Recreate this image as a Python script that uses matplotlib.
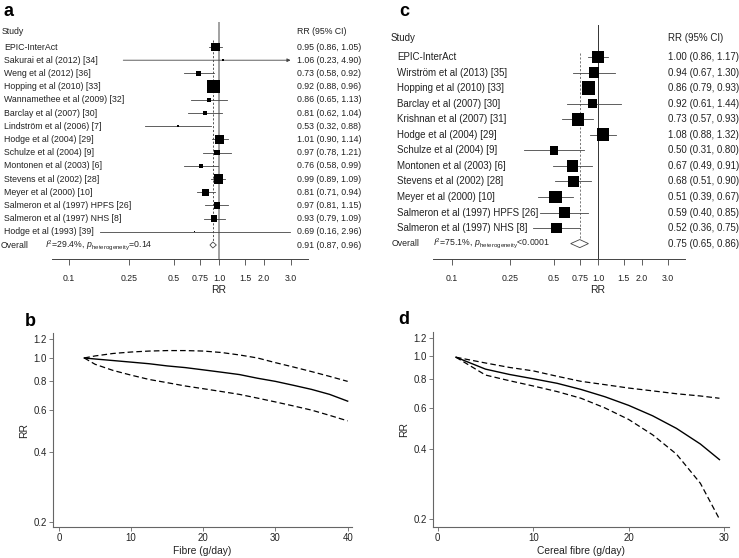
import numpy as np
import matplotlib.pyplot as plt
from matplotlib import transforms
from matplotlib.ticker import NullLocator

plt.rcParams['font.family'] = ['Liberation Sans', 'DejaVu Sans']
plt.rcParams['mathtext.fontset'] = 'custom'
plt.rcParams['mathtext.rm'] = 'Liberation Sans'
plt.rcParams['mathtext.it'] = 'Liberation Sans:italic'

W, H = 739, 558

# ---- panel a: total fibre, per 10 g/day
studies_a = ["EPIC-InterAct", "Sakurai et al (2012) [34]", "Weng et al (2012) [36]",
             "Hopping et al (2010) [33]", "Wannamethee et al (2009) [32]",
             "Barclay et al (2007) [30]", "Lindström et al (2006) [7]",
             "Hodge et al (2004) [29]", "Schulze et al (2004) [9]",
             "Montonen et al (2003) [6]", "Stevens et al (2002) [28]",
             "Meyer et al (2000) [10]", "Salmeron et al (1997) HPFS [26]",
             "Salmeron et al (1997) NHS [8]", "Hodge et al (1993) [39]"]
rr_a = [0.95, 1.06, 0.73, 0.92, 0.86, 0.81, 0.53, 1.01, 0.97, 0.76, 0.99, 0.81, 0.97, 0.93, 0.69]
lo_a = [0.86, 0.23, 0.58, 0.88, 0.65, 0.62, 0.32, 0.90, 0.78, 0.58, 0.89, 0.71, 0.81, 0.79, 0.16]
hi_a = [1.05, 4.90, 0.92, 0.96, 1.13, 1.04, 0.88, 1.14, 1.21, 0.99, 1.09, 0.94, 1.15, 1.09, 2.96]
weights_a = [11.1, 0.4, 4.3, 24.9, 2.8, 2.8, 0.7, 11.1, 4.3, 2.8, 14.0, 8.5, 6.2, 6.2, 0.2]
overall_a = (0.91, 0.87, 0.96)
het_a = r"$I^2$=29.4%, $p_{\mathrm{heterogeneity}}$=0.14"

# ---- panel c: cereal fibre
studies_c = ["EPIC-InterAct", "Wirström et al (2013) [35]", "Hopping et al (2010) [33]",
             "Barclay et al (2007) [30]", "Krishnan et al (2007) [31]",
             "Hodge et al (2004) [29]", "Schulze et al (2004) [9]",
             "Montonen et al (2003) [6]", "Stevens et al (2002) [28]",
             "Meyer et al (2000) [10]", "Salmeron et al (1997) HPFS [26]",
             "Salmeron et al (1997) NHS [8]"]
rr_c = [1.00, 0.94, 0.86, 0.92, 0.73, 1.08, 0.50, 0.67, 0.68, 0.51, 0.59, 0.52]
lo_c = [0.86, 0.67, 0.79, 0.61, 0.57, 0.88, 0.31, 0.49, 0.51, 0.39, 0.40, 0.36]
hi_c = [1.17, 1.30, 0.93, 1.44, 0.93, 1.32, 0.80, 0.91, 0.90, 0.67, 0.85, 0.75]
weights_c = [10.1, 7.0, 11.8, 5.7, 10.1, 10.1, 4.5, 8.4, 8.4, 10.1, 7.0, 7.0]
overall_c = (0.75, 0.65, 0.86)
het_c = r"$I^2$=75.1%, $p_{\mathrm{heterogeneity}}$<0.0001"

rr_ticks = [0.1, 0.25, 0.5, 0.75, 1.0, 1.5, 2.0, 3.0]
rr_tick_labels = ["0.1", "0.25", "0.5", "0.75", "1.0", "1.5", "2.0", "3.0"]

# ---- panel b: dose-response, total fibre
fibre = [3.5, 5, 7.5, 10, 12.5, 15, 17.5, 20, 22.5, 25, 27.5, 30, 32.5, 35, 37.5, 40]
fibre_rr = [1.0, 0.99, 0.975, 0.96, 0.945, 0.925, 0.91, 0.89, 0.87, 0.85, 0.82, 0.795,
            0.765, 0.735, 0.70, 0.655]
fibre_hi = [1.0, 1.02, 1.045, 1.06, 1.07, 1.075, 1.075, 1.07, 1.055, 1.03, 1.0, 0.955,
            0.915, 0.875, 0.835, 0.795]
fibre_lo = [1.0, 0.94, 0.885, 0.845, 0.81, 0.785, 0.76, 0.74, 0.72, 0.70, 0.675, 0.65,
            0.625, 0.60, 0.57, 0.54]

# ---- panel d: dose-response, cereal fibre
cereal = [1.9, 5, 7.5, 10, 12.5, 15, 17.5, 20, 22.5, 25, 27.5, 29.5]
cereal_rr = [0.99, 0.88, 0.835, 0.80, 0.765, 0.72, 0.67, 0.615, 0.555, 0.49, 0.42, 0.36]
cereal_hi = [0.99, 0.935, 0.895, 0.865, 0.82, 0.78, 0.755, 0.73, 0.71, 0.69, 0.675, 0.66]
cereal_lo = [0.99, 0.83, 0.785, 0.745, 0.705, 0.66, 0.60, 0.535, 0.46, 0.38, 0.285, 0.20]

curve_yticks = [0.2, 0.4, 0.6, 0.8, 1.0, 1.2]
curve_ylabels = ["0.2", "0.4", "0.6", "0.8", "1.0", "1.2"]

TXT = "#222222"


def px_rect(left, top, right, bottom):
    return [left / W, 1 - bottom / H, (right - left) / W, (bottom - top) / H]


def forest(fig, studies, rr, lo, hi, weights, overall, het, lay):
    left, top, right, bottom = lay["rect"]
    ax = fig.add_axes(px_rect(left, top, right, bottom))
    n = len(studies)
    rows = np.arange(n)
    r0, step = lay["row0"], lay["step"]
    x1, ppd = lay["x_one"], lay["ppd"]
    fs, fs_o = lay["fs"], lay["fs_overall"]
    ax.set_xscale("log")
    ax.set_xlim(10 ** ((left - x1) / ppd), 10 ** ((right - x1) / ppd))
    ax.set_ylim((bottom - r0) / step, (top - r0) / step)

    ax.axvline(1.0, color=lay["ref_color"], lw=lay["ref_lw"], zorder=1)
    est, elo, ehi = overall
    ax.plot([est, est], [lay["dash_top"], n - 0.25], color=lay["dash_color"],
            lw=0.7, ls=(0, (2.2, 1.8)), zorder=1)

    cap = rr_ticks[-1]
    for i in rows:
        if hi[i] > cap:
            ax.annotate("", xy=(cap, i), xytext=(lo[i], i),
                        arrowprops=dict(arrowstyle="-|>", color="#444444", lw=0.6,
                                        mutation_scale=5, shrinkA=0, shrinkB=0))
        else:
            ax.plot([lo[i], hi[i]], [i, i], color="#444444", lw=0.6, zorder=2)
    side_pt = lay["box_k"] * np.sqrt(np.array(weights)) * 72 / 100
    ax.scatter(rr, rows, marker="s", s=side_pt ** 2, color="black", linewidths=0,
               zorder=3)
    dh = lay["diamond_h"]
    ax.fill([elo, est, ehi, est], [n, n - dh, n, n + dh], facecolor="white",
            edgecolor="#444444", lw=0.6, zorder=3)

    for s in ["top", "left", "right"]:
        ax.spines[s].set_visible(False)
    ax.spines["bottom"].set_color("#444444")
    ax.spines["bottom"].set_linewidth(0.7)
    ax.set_yticks([])
    ax.set_xticks(rr_ticks)
    ax.set_xticklabels(rr_tick_labels)
    ax.xaxis.set_minor_locator(NullLocator())
    ax.tick_params(axis="x", length=4, width=0.6, color="#444444", labelsize=6.3,
                   labelcolor=TXT, pad=7)

    tr = transforms.blended_transform_factory(fig.transFigure, ax.transData)
    hy = (lay["header"] - r0) / step
    ax.text(lay["x_header"] / W, hy, "Study", transform=tr, fontsize=fs,
            color=TXT, va="center")
    ax.text(lay["x_rr"] / W, hy, "RR (95% CI)", transform=tr, fontsize=fs,
            color=TXT, va="center")
    for i in rows:
        ax.text(lay["x_study"] / W, i, studies[i], transform=tr, fontsize=fs,
                color=TXT, va="center")
        ax.text(lay["x_rr"] / W, i, f"{rr[i]:.2f} ({lo[i]:.2f}, {hi[i]:.2f})",
                transform=tr, fontsize=fs, color=TXT, va="center")
    ax.text(lay["x_overall"] / W, n, "Overall", transform=tr, fontsize=fs_o,
            color=TXT, va="center")
    ax.text(lay["x_het"] / W, n, het, transform=tr, fontsize=fs_o, color=TXT,
            va="center")
    ax.text(lay["x_rr"] / W, n, f"{est:.2f} ({elo:.2f}, {ehi:.2f})", transform=tr,
            fontsize=fs, color=TXT, va="center")
    trx = transforms.blended_transform_factory(ax.transData, fig.transFigure)
    ax.text(1.0, 1 - lay["rr_label"] / H, "RR", transform=trx, fontsize=7.5,
            color=TXT, ha="center", va="center")
    return ax


def curve(fig, rect, x, rr, lo, hi, xlim, ylim, xticks, xlabel):
    ax = fig.add_axes(px_rect(*rect))
    ax.set_yscale("log")
    ax.plot(x, rr, color="black", lw=1.0)
    ax.plot(x, hi, color="black", lw=0.9, ls=(0, (4.5, 2.5)))
    ax.plot(x, lo, color="black", lw=0.9, ls=(0, (4.5, 2.5)))
    ax.set_xlim(*xlim)
    ax.set_ylim(*ylim)
    ax.set_yticks(curve_yticks)
    ax.set_yticklabels(curve_ylabels)
    ax.yaxis.set_minor_locator(NullLocator())
    ax.set_xticks(xticks)
    for s in ["top", "right"]:
        ax.spines[s].set_visible(False)
    for s in ["left", "bottom"]:
        ax.spines[s].set_color("#666666")
        ax.spines[s].set_linewidth(0.8)
    ax.tick_params(length=3, width=0.6, color="#666666", labelsize=6.9,
                   labelcolor=TXT, pad=1.5)
    ax.set_xlabel(xlabel, fontsize=7.4, color=TXT, labelpad=2)
    ax.set_ylabel("RR", fontsize=7.4, color=TXT, labelpad=3)
    return ax


fig = plt.figure(figsize=(W / 100, H / 100), dpi=100)

forest(fig, studies_a, rr_a, lo_a, hi_a, weights_a, overall_a, het_a,
       dict(rect=(52, 22, 308, 259), row0=47, step=13.2, x_one=219, ppd=150,
            header=31, x_header=2, x_study=4, x_rr=297, x_overall=1, x_het=45,
            rr_label=290, fs=6.3, fs_overall=6.3,
            ref_color="#9a9a9a", ref_lw=1.3, dash_color="#555555", dash_top=-0.55,
            box_k=2.5, diamond_h=0.23))

forest(fig, studies_c, rr_c, lo_c, hi_c, weights_c, overall_c, het_c,
       dict(rect=(433, 25, 685, 259), row0=57, step=15.55, x_one=598, ppd=146,
            header=38, x_header=391, x_study=397, x_rr=668, x_overall=392, x_het=433,
            rr_label=290, fs=7.0, fs_overall=6.3,
            ref_color="#333333", ref_lw=0.7, dash_color="#777777", dash_top=-0.26,
            box_k=4.0, diamond_h=0.26))

curve(fig, (53, 333, 352, 527), fibre, fibre_rr, fibre_lo, fibre_hi,
      (-0.83, 40.6), (0.191, 1.277), [0, 10, 20, 30, 40], "Fibre (g/day)")
curve(fig, (433, 332, 729, 527), cereal, cereal_rr, cereal_lo, cereal_hi,
      (-0.5, 30.5), (0.185, 1.27), [0, 10, 20, 30], "Cereal fibre (g/day)")

for lab, x, y in [("a", 8.5, 11.5), ("c", 404.5, 12), ("b", 30, 321.5), ("d", 404, 319)]:
    fig.text(x / W, 1 - y / H, lab, fontsize=13, fontweight="bold", ha="center",
             va="center", color="black")

fig.savefig("out.png", dpi=100)
